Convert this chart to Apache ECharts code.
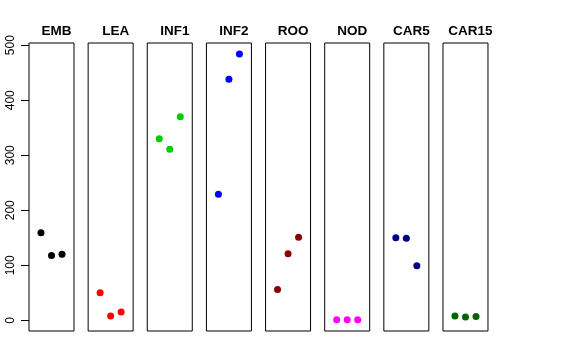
<!DOCTYPE html>
<html>
<head>
<meta charset="utf-8">
<script src="https://cdn.jsdelivr.net/npm/echarts@6/dist/echarts.min.js"></script>
<style>
html,body{margin:0;padding:0;background:#fff;}
#chart{width:576px;height:360px;}
</style>
</head>
<body>
<div id="chart"></div>
<script>
var panels = ['EMB','LEA','INF1','INF2','ROO','NOD','CAR5','CAR15'];
var colors = ['#000000','#FF0000','#00CD00','#0000FF','#8B0000','#FF00FF','#000080','#006400'];
var EMB = [159, 118, 120];
var LEA = [50, 8, 15];
var INF1 = [330, 311, 370];
var INF2 = [229, 438, 484];
var ROO = [56, 121, 151];
var NOD = [1, 1, 1];
var CAR5 = [150, 149, 99];
var CAR15 = [8, 6, 7];
var values = [EMB, LEA, INF1, INF2, ROO, NOD, CAR5, CAR15];
var yTickMin = 0, yTickMax = 500, yTickStep = 100;
var replicate = [1, 2, 3];

(function () {
var yMin = -19.4, yMax = 504;
var grids = [], xAxes = [], yAxes = [], series = [], titles = [];
var left0 = 29, step = 59.14, w = 45, gTop = 43, h = 288;
for (var i = 0; i < panels.length; i++) {
  var l = left0 + i * step;
  grids.push({left: l, top: gTop, width: w, height: h, show: true, borderColor: '#000', borderWidth: 1});
  xAxes.push({type: 'value', gridIndex: i, min: -0.14, max: 4.14, show: false});
  yAxes.push({type: 'value', gridIndex: i, min: yMin, max: yMax, show: false});
  titles.push({text: panels[i], left: l + w / 2, top: 19, textAlign: 'center',
    textStyle: {fontSize: 13.5, fontWeight: 'bold', color: '#000', fontFamily: 'Liberation Sans'}});
  series.push({
    type: 'scatter', xAxisIndex: i, yAxisIndex: i,
    symbol: 'circle', symbolSize: 7,
    itemStyle: {color: colors[i], opacity: 1},
    data: replicate.map(function (x, j) { return [x, values[i][j]]; })
  });
}
var pxPerUnit = h / (yMax - yMin);
var axTop = gTop + (yMax - yTickMax) * pxPerUnit;
var axH = (yTickMax - yTickMin) * pxPerUnit;
grids.push({left: left0, top: axTop, width: w, height: axH, show: false});
xAxes.push({type: 'value', gridIndex: 8, min: 0, max: 1, show: false});
yAxes.push({
  type: 'value', gridIndex: 8, min: yTickMin, max: yTickMax, interval: yTickStep,
  splitLine: {show: false},
  axisLine: {show: false},
  axisTick: {show: true, length: 8, lineStyle: {color: '#000'}},
  axisLabel: {rotate: 90, margin: 12, fontSize: 12, color: '#000', fontFamily: 'Liberation Sans'}
});
var chart = echarts.init(document.getElementById('chart'), null, {renderer: 'canvas'});
chart.setOption({
  animation: false,
  backgroundColor: '#fff',
  title: titles,
  grid: grids,
  xAxis: xAxes,
  yAxis: yAxes,
  series: series
});
})();
</script>
</body>
</html>
